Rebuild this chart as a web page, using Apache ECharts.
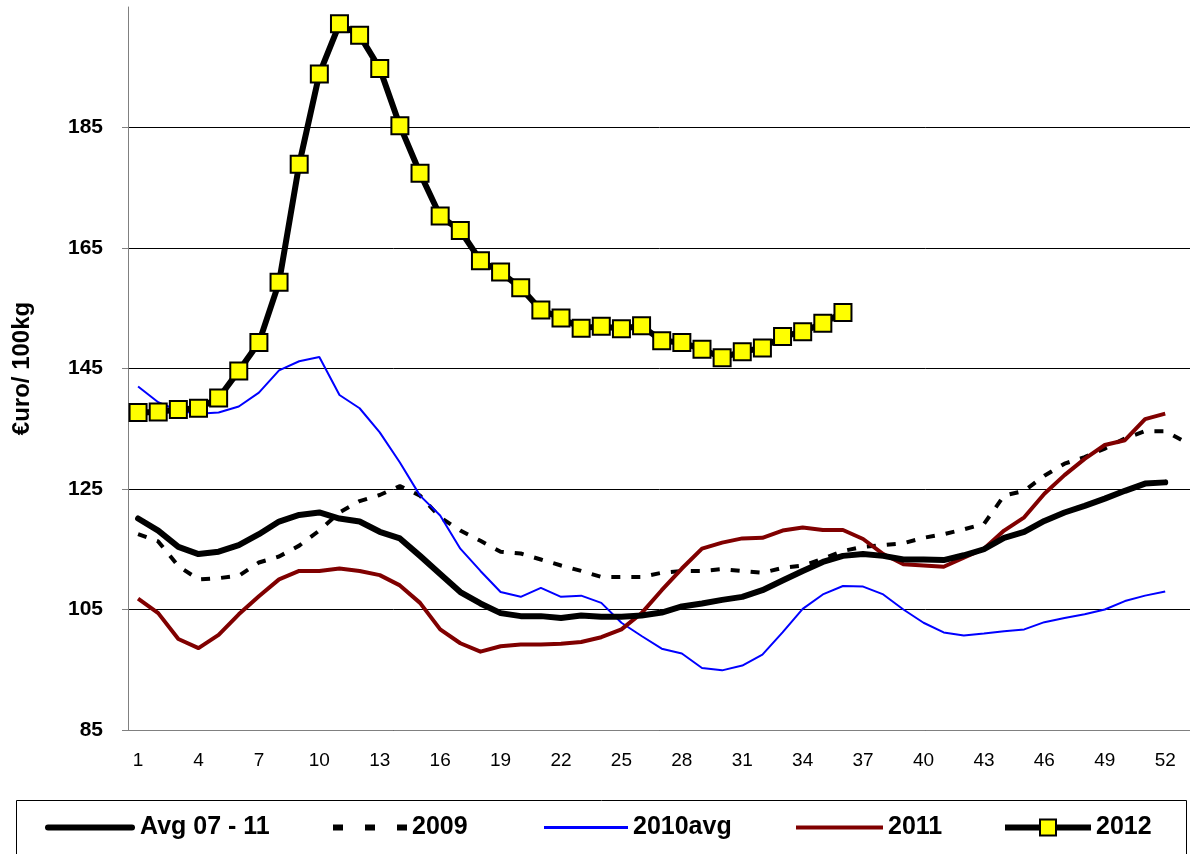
<!DOCTYPE html>
<html>
<head>
<meta charset="utf-8">
<script src="https://cdn.jsdelivr.net/npm/echarts@6/dist/echarts.min.js"></script>
<style>
    html, body { margin: 0; padding: 0; background: #fff; }
    #main { width: 1190px; height: 854px; }
</style>
</head>
<body>
<div id="main"></div>
<script>
// weeks 1..53 (53 is only used by 2009)
var weeks = [];
for (var i = 1; i <= 53; i++) weeks.push(String(i));

var seriesNames = ['Avg 07 - 11', '2009', '2010avg', '2011', '2012'];

var avg0711 = [120.1, 118.1, 115.4, 114.2, 114.6, 115.7, 117.5, 119.6, 120.7, 121.1,
    120.1, 119.6, 117.9, 116.8, 113.9, 110.9, 107.9, 106.0, 104.4, 103.9,
    103.9, 103.6, 104.0, 103.8, 103.8, 104.0, 104.5, 105.5, 106.0, 106.6,
    107.1, 108.2, 109.8, 111.4, 112.9, 113.9, 114.2, 113.9, 113.3, 113.3,
    113.2, 114.0, 115.0, 116.9, 117.9, 119.7, 121.1, 122.2, 123.4, 124.7,
    125.9, 126.1];

var y2009 = [117.5, 116.3, 112.2, 110.0, 110.2, 110.6, 112.8, 113.8, 115.6, 118.1,
    121.1, 123.0, 124.0, 125.5, 123.9, 120.3, 118.1, 116.4, 114.6, 114.3,
    113.3, 112.3, 111.4, 110.4, 110.4, 110.4, 111.1, 111.4, 111.4, 111.7,
    111.4, 111.1, 111.9, 112.3, 113.4, 114.7, 115.4, 115.7, 116.0, 116.9,
    117.5, 118.3, 119.2, 123.9, 124.7, 127.2, 129.2, 130.3, 131.7, 133.4,
    134.6, 134.6, 132.8];

var y2010avg = [142.0, 139.4, 138.0, 137.5, 137.7, 138.7, 141.0, 144.7, 146.2, 146.9,
    140.6, 138.4, 134.4, 129.4, 123.9, 120.6, 115.1, 111.4, 107.9, 107.1,
    108.6, 107.1, 107.3, 106.1, 102.8, 100.6, 98.5, 97.7, 95.3, 94.9,
    95.7, 97.5, 101.2, 105.1, 107.5, 108.9, 108.8, 107.5, 105.0, 102.8,
    101.2, 100.7, 101.0, 101.4, 101.7, 102.9, 103.6, 104.2, 105.0, 106.4,
    107.3, 108.0];

var y2011 = [106.8, 104.4, 100.1, 98.6, 100.8, 104.2, 107.2, 110.0, 111.4, 111.4,
    111.8, 111.4, 110.7, 109.0, 106.1, 101.7, 99.4, 98.0, 98.9, 99.2,
    99.2, 99.3, 99.6, 100.4, 101.7, 104.4, 108.2, 111.8, 115.1, 116.1,
    116.8, 116.9, 118.1, 118.6, 118.2, 118.2, 116.7, 114.2, 112.5, 112.3,
    112.1, 113.6, 115.1, 118.1, 120.3, 124.2, 127.3, 130.0, 132.3, 133.1,
    136.6, 137.5];

var y2012 = [137.7, 137.8, 138.2, 138.4, 140.1, 144.6, 149.3, 159.3, 178.9, 193.9,
    202.2, 200.3, 194.8, 185.3, 177.4, 170.3, 167.9, 162.9, 161.0, 158.4,
    154.7, 153.4, 151.7, 152.0, 151.6, 152.1, 149.6, 149.3, 148.2, 146.8,
    147.8, 148.4, 150.3, 151.1, 152.5, 154.3];

var yTicks = [85, 105, 125, 145, 165, 185];

var chart = echarts.init(document.getElementById('main'));

// 每个图例单独摆放，模仿 Excel 的间距
var legendCfg = [
    { left: 45, w: 90, h: 6, icon: 'path://M3,0 H87 A3,3 0 0 1 87,6 H3 A3,3 0 0 1 3,0 Z' },
    { left: 333, w: 74, h: 6, icon: 'path://M0,0h10v6h-10z M32,0h10v6h-10z M64,0h10v6h-10z' },
    { left: 544, w: 84, h: 3, icon: 'rect' },
    { left: 796, w: 87, h: 4, icon: 'rect' },
    { left: 1002, w: 86, h: 20, icon: null }
];
var legends = seriesNames.map(function (name, idx) {
    var c = legendCfg[idx];
    var lg = {
        data: [name],
        left: c.left,
        top: 815,
        itemWidth: c.w,
        itemHeight: c.h,
        itemGap: 0,
        padding: 0,
        textStyle: {
            fontFamily: 'Liberation Sans',
            fontWeight: 'bold',
            fontSize: 25,
            color: '#000'
        }
    };
    if (c.icon) {
        lg.icon = c.icon;
    } else {
        lg.lineStyle = { width: 6, color: '#000' };
    }
    return lg;
});

var option = {
    animation: false,
    backgroundColor: '#fff',
    grid: {
        left: 128,
        top: 7,
        width: 53 * 20.14,
        bottom: 124,
        containLabel: false,
        outerBoundsMode: 'none'
    },
    legend: legends,
    graphic: [{
        type: 'rect',
        shape: { x: 16.5, y: 800.5, width: 1170, height: 60 },
        style: { fill: 'none', stroke: '#000', lineWidth: 1 },
        silent: true,
        z: -1
    }],
    xAxis: {
        type: 'category',
        data: weeks,
        boundaryGap: true,
        axisLine: { lineStyle: { color: '#808080', width: 1 } },
        axisTick: { interval: 0, length: 6, lineStyle: { color: '#808080' } },
        axisLabel: {
            interval: 2,
            margin: 21,
            fontFamily: 'Liberation Sans',
            fontSize: 19,
            color: '#000'
        },
        splitLine: { show: false }
    },
    yAxis: {
        type: 'value',
        min: 85,
        max: 205,
        interval: 20,
        name: '€uro/ 100kg',
        nameLocation: 'middle',
        nameGap: 94,
        nameTextStyle: {
            fontFamily: 'Liberation Sans',
            fontWeight: 'bold',
            fontSize: 24,
            color: '#000'
        },
        axisLine: { show: true, lineStyle: { color: '#808080', width: 1 } },
        axisTick: { show: true, length: 6, customValues: yTicks, lineStyle: { color: '#808080' } },
        axisLabel: {
            margin: 25,
            customValues: yTicks,
            fontFamily: 'Liberation Sans',
            fontWeight: 'bold',
            fontSize: 21,
            color: '#000'
        },
        splitLine: { show: true, lineStyle: { color: '#000', width: 1 } }
    },
    series: [
        {
            name: seriesNames[0],
            type: 'line',
            data: avg0711,
            symbol: 'none',
            lineStyle: { color: '#000', width: 6, cap: 'round', join: 'round' },
            itemStyle: { color: '#000' },
            z: 3
        },
        {
            name: seriesNames[1],
            type: 'line',
            data: y2009,
            symbol: 'none',
            lineStyle: { color: '#000', width: 4, type: [9, 11] },
            itemStyle: { color: '#000' },
            z: 2
        },
        {
            name: seriesNames[2],
            type: 'line',
            data: y2010avg,
            symbol: 'none',
            lineStyle: { color: '#0000ff', width: 2 },
            itemStyle: { color: '#0000ff' },
            z: 2
        },
        {
            name: seriesNames[3],
            type: 'line',
            data: y2011,
            symbol: 'none',
            lineStyle: { color: '#800000', width: 4, join: 'round' },
            itemStyle: { color: '#800000' },
            z: 2
        },
        {
            name: seriesNames[4],
            type: 'line',
            data: y2012,
            symbol: 'rect',
            symbolSize: 17,
            showAllSymbol: true,
            lineStyle: { color: '#000', width: 6, join: 'round' },
            itemStyle: { color: '#ffff00', borderColor: '#000', borderWidth: 2 },
            z: 5
        }
    ]
};

chart.setOption(option);
</script>
</body>
</html>
